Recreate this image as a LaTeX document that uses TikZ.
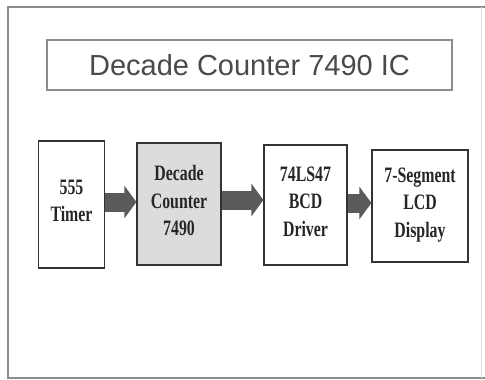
\documentclass[tikz,border=0pt]{standalone}
\usepackage{fontspec}
\setmainfont{Liberation Serif}
\newfontfamily\titlefont{Liberation Sans}
\newfontfamily\blockfont[FakeStretch=0.72]{Liberation Serif}
\usetikzlibrary{arrows.meta}
\definecolor{framegray}{HTML}{8C8C8C}
\definecolor{titlegray}{HTML}{4A4A4A}
\definecolor{arrowgray}{HTML}{5A5A5A}
\definecolor{countergray}{HTML}{DCDCDC}
\tikzset{
  block/.style={draw=black!80,line width=1.2pt,align=center,inner sep=0pt,text depth=7pt,
    font=\blockfont\bfseries\fontsize{22}{27.5}\selectfont,text=black!85},
  fatarrow/.style={arrowgray,line width=19pt,-{Triangle[width=32pt,length=12pt]}}
}
\begin{document}
\begin{tikzpicture}[x=1pt,y=-1pt]
\useasboundingbox (0,0) rectangle (485,380);
% outer frame, right side only faint
\draw[framegray,line width=2pt] (490,7) -- (8,7) -- (8,378) -- (490,378);
\draw[black!12,line width=1pt] (481,7) -- (481,378);
\node[draw=framegray,line width=1.2pt,minimum width=405pt,minimum height=50pt,
	font=\titlefont\fontsize{29}{32}\selectfont,text=titlegray]
	(title) at (249.5,65) {Decade Counter 7490 IC};
% blocks
\node[block,minimum width=66pt,minimum height=127pt] (timer) at (71.5,204.5) {555\\Timer};
\node[block,fill=countergray,minimum width=84pt,minimum height=122pt] (counter) at (179,204) {Decade\\Counter\\7490};
\node[block,minimum width=83pt,minimum height=120pt] (driver) at (305.5,205) {74LS47\\BCD\\Driver};
\node[block,minimum width=96pt,minimum height=112pt] (display) at (420,206) {7-Segment\\LCD\\Display};
% arrows
\draw[fatarrow] ([yshift=2.5pt]timer.east) -- ([yshift=2.5pt]timer.east -| counter.west);
\draw[fatarrow] ([yshift=4pt]counter.east) -- ([yshift=4pt]counter.east -| driver.west);
\draw[fatarrow] ([yshift=2pt]driver.east) -- ([yshift=2pt]driver.east -| display.west);
\end{tikzpicture}
\end{document}
